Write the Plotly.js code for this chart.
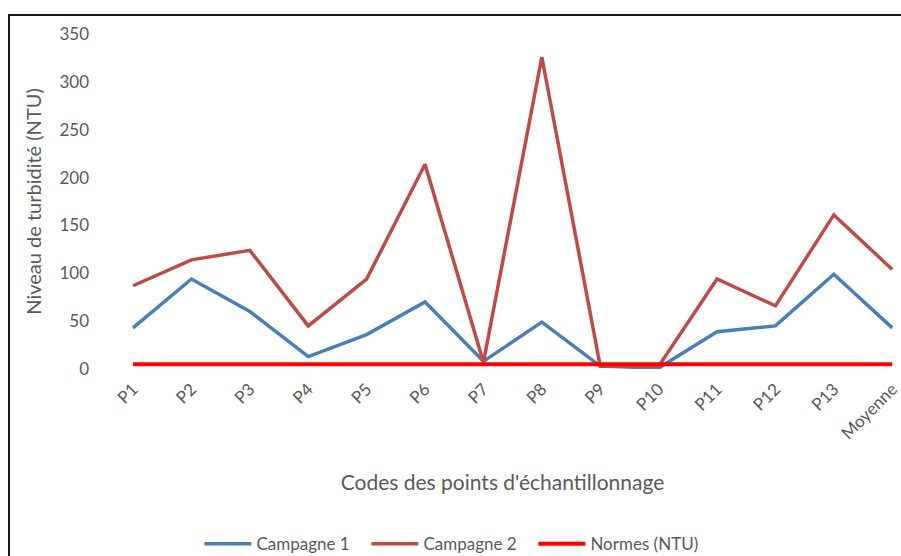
<!DOCTYPE html>
<html>
<head>
<meta charset="utf-8">
<script src="https://cdn.plot.ly/plotly-3.0.1.min.js"></script>
<style>
html,body{margin:0;padding:0;background:#fff;overflow:hidden;}
#chart{width:901px;height:556px;position:relative;}
#frame{position:absolute;left:8px;top:14px;width:1000px;height:1000px;border:2px solid #1a1a1a;pointer-events:none;z-index:5;}
</style>
</head>
<body>
<div id="chart"></div>
<div id="frame"></div>
<script>
const categories = ["P1","P2","P3","P4","P5","P6","P7","P8","P9","P10","P11","P12","P13","Moyenne"];
const campagne1 = [43, 94, 60, 13, 36, 70, 8, 49, 3, 1, 39, 45, 99, 43];
const campagne2 = [87, 114, 124, 45, 94, 214, 7, 326, 3, 3, 94, 66, 161, 104];
const normes = [5, 5, 5, 5, 5, 5, 5, 5, 5, 5, 5, 5, 5, 5];
const yTicks = [0, 50, 100, 150, 200, 250, 300, 350];

const font = "Lato, 'Open Sans', sans-serif";
const textColor = "#595959";

const traces = [
  {x: categories, y: campagne1, name: "Campagne 1", type: "scatter", mode: "lines",
   line: {color: "#4A7EBB", width: 3.5}},
  {x: categories, y: campagne2, name: "Campagne 2", type: "scatter", mode: "lines",
   line: {color: "#BE4B48", width: 3.5}},
  {x: categories, y: normes, name: "Normes (NTU)", type: "scatter", mode: "lines",
   line: {color: "#FF0000", width: 4}}
];

const layout = {
  width: 901, height: 556,
  margin: {l: 104, r: 0, t: 34, b: 186.5, autoexpand: false},
  paper_bgcolor: "#fff", plot_bgcolor: "#fff",
  font: {family: font, color: textColor, size: 16},
  showlegend: true,
  legend: {orientation: "h", x: 0.434, xanchor: "center", y: -0.523, yanchor: "middle",
           font: {family: font, size: 17, color: textColor}, itemwidth: 47,
           entrywidth: 105, entrywidthmode: "pixels"},
  xaxis: {
    type: "category", range: [-0.497, 13.15], automargin: false,
    showgrid: false, zeroline: false, showline: false, ticks: "",
    tickangle: -45, ticklabelstandoff: 6, tickfont: {family: font, size: 17, color: textColor},
    title: {text: "Codes des points d'échantillonnage", font: {family: font, size: 21, color: textColor}, standoff: 33}
  },
  yaxis: {
    range: [0, 350], tickvals: yTicks, ticktext: yTicks.map(String), automargin: false,
    showgrid: false, zeroline: false, showline: false, ticks: "",
    ticklabelstandoff: 14,
    tickfont: {family: font, size: 17, color: textColor},
    title: {text: "Niveau de turbidité (NTU)", font: {family: font, size: 20, color: textColor}, standoff: 12}
  }
};

Plotly.newPlot("chart", traces, layout, {displayModeBar: false, staticPlot: true});
</script>
</body>
</html>
